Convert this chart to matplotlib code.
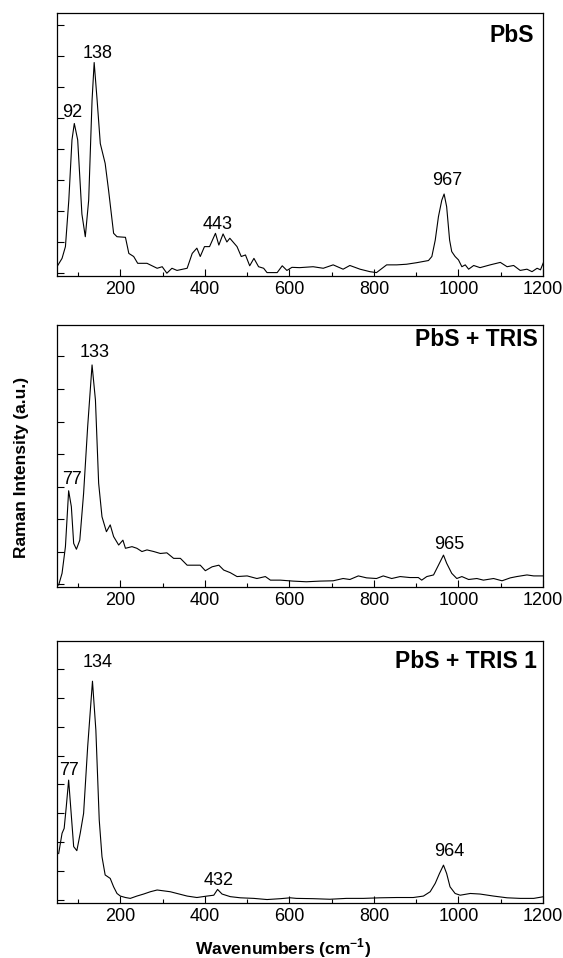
import matplotlib
matplotlib.use('Agg')
import matplotlib.pyplot as plt
import numpy as np
from matplotlib.ticker import MultipleLocator, NullFormatter

plt.rcParams['font.family'] = ['Liberation Sans', 'DejaVu Sans']

# PbS
wn_pbs = [50, 62, 70, 78, 85.5, 91, 99, 109, 117, 125, 133, 138, 145, 152.5, 164, 172, 184, 192,
          212, 220, 231.5, 241, 263, 287, 299, 310, 322, 334, 358, 370, 381, 389, 399, 411, 425,
          433, 443, 452, 459, 476, 486, 496, 506, 516, 527, 539, 547, 571, 583, 594, 606, 624,
          656, 680, 703.5, 727, 743, 767, 790.5, 806, 830, 854, 877, 901, 917, 929, 937, 945,
          952.6, 960.5, 966, 972, 979, 984, 992, 1000, 1008, 1016, 1024, 1036, 1051, 1075, 1099,
          1115, 1130.5, 1146, 1162, 1174, 1186, 1194, 1202]
int_pbs = [0.2, 0.47, 0.85, 2.35, 4.3, 4.83, 4.3, 1.9, 1.17, 2.35, 5.58, 6.8, 5.58, 4.18, 3.54,
           2.68, 1.28, 1.17, 1.15, 0.63, 0.53, 0.31, 0.31, 0.15, 0.2, -0.01, 0.15, 0.08, 0.15,
           0.63, 0.8, 0.53, 0.85, 0.85, 1.28, 0.9, 1.26, 1.0, 1.12, 0.85, 0.53, 0.58, 0.23, 0.47,
           0.2, 0.15, 0.01, 0.01, 0.23, 0.08, 0.18, 0.17, 0.2, 0.15, 0.26, 0.12, 0.24, 0.12, 0.04,
           0.01, 0.26, 0.26, 0.28, 0.33, 0.37, 0.4, 0.53, 1.06, 1.82, 2.35, 2.55, 2.14, 1.06, 0.69,
           0.53, 0.42, 0.2, 0.26, 0.12, 0.24, 0.17, 0.26, 0.34, 0.2, 0.24, 0.08, 0.12, 0.04, 0.15,
           0.1, 0.37]

# PbS + TRIS
wn_tris = [54, 62, 70, 77.6, 84, 89.5, 96, 104, 113, 122.6, 133, 141, 148.6, 156.5, 167, 176, 184,
           196, 206, 212, 227.5, 239, 251, 263, 279, 294.6, 310, 326, 342, 358, 373.5, 389, 401,
           417, 433, 444.5, 460, 476, 500, 523, 543, 555, 578.6, 609, 640, 672, 703.5, 727, 743,
           763, 782.6, 806, 822, 842, 862, 885, 905, 913, 925, 941, 952.6, 964.5, 972, 984, 996,
           1008, 1024, 1043.5, 1059, 1083, 1103, 1122.6, 1138, 1162, 1178, 1202]
int_tris = [-0.03, 0.33, 1.15, 2.87, 2.38, 1.25, 1.07, 1.35, 2.79, 4.84, 6.74, 5.66, 3.1, 2.07,
            1.61, 1.82, 1.46, 1.2, 1.35, 1.1, 1.15, 1.1, 1.0, 1.05, 1.0, 0.94, 0.96, 0.79, 0.79,
            0.58, 0.58, 0.58, 0.41, 0.53, 0.58, 0.43, 0.35, 0.23, 0.25, 0.17, 0.23, 0.12, 0.12,
            0.09, 0.07, 0.09, 0.1, 0.17, 0.14, 0.25, 0.19, 0.17, 0.25, 0.17, 0.23, 0.2, 0.2, 0.12,
            0.23, 0.28, 0.58, 0.89, 0.64, 0.33, 0.17, 0.23, 0.14, 0.17, 0.12, 0.17, 0.1, 0.19,
            0.23, 0.28, 0.25, 0.25]

# PbS + TRIS 1
wn_tris1 = [54, 62, 67, 72, 77.6, 83, 89.5, 97, 105, 113, 122.6, 134, 142, 150, 156.5, 164, 176,
            184, 192, 200, 212, 223.5, 239, 255, 271, 287, 302.5, 318, 334, 358, 381, 405, 421,
            430, 440.6, 460, 484, 515.6, 547, 579, 602, 616.5, 656, 695.6, 735, 775, 814, 854,
            893, 917, 933, 945, 955, 964.5, 972, 980, 992, 1004, 1028, 1051, 1083, 1115, 1146,
            1178, 1202]
int_tris1 = [1.61, 2.31, 2.48, 3.23, 4.15, 3.11, 1.85, 1.71, 2.31, 3.0, 5.3, 7.57, 5.88, 2.77, 1.5,
             0.87, 0.75, 0.46, 0.23, 0.14, 0.09, 0.06, 0.14, 0.21, 0.29, 0.35, 0.32, 0.29, 0.23,
             0.14, 0.09, 0.14, 0.17, 0.37, 0.21, 0.12, 0.08, 0.06, 0.02, 0.05, 0.08, 0.06, 0.05,
             0.03, 0.06, 0.06, 0.08, 0.09, 0.09, 0.14, 0.29, 0.58, 0.92, 1.21, 0.92, 0.46, 0.23,
             0.17, 0.23, 0.21, 0.14, 0.08, 0.06, 0.06, 0.12]

samples = ['PbS', 'PbS + TRIS', 'PbS + TRIS 1']
peaks = [[92, 138, 443, 967], [77, 133, 965], [77, 134, 432, 964]]
peak_x = [[87, 146, 430, 973], [85, 140, 979], [79, 146, 433, 979]]
peak_y = [[5.04, 6.96, 1.41, 2.84], [3.08, 6.97, 1.07], [4.33, 8.05, 0.52, 1.52]]

wns = [wn_pbs, wn_tris, wn_tris1]
ints = [int_pbs, int_tris, int_tris1]
ylims = [(-0.1, 8.4), (-0.09, 7.97), (-0.1, 8.96)]
boxes = [[0.1012, 0.7119, 0.8633, 0.2745],
         [0.1012, 0.3873, 0.8633, 0.2735],
         [0.1012, 0.0574, 0.8633, 0.2735]]
title_pos = [(0.981, 0.89), (0.99, 0.92), (0.988, 0.897)]

fig = plt.figure(figsize=(5.63, 9.58), dpi=100)
for i in range(3):
    ax = fig.add_axes(boxes[i])
    ax.plot(wns[i], ints[i], color='black', lw=0.8)
    ax.set_xlim(50, 1200)
    ax.set_ylim(ylims[i])
    ax.xaxis.set_major_locator(MultipleLocator(200))
    ax.xaxis.set_minor_locator(MultipleLocator(100))
    ax.yaxis.set_major_locator(MultipleLocator(1))
    ax.yaxis.set_major_formatter(NullFormatter())
    ax.tick_params(axis='x', which='major', direction='in', length=5, width=0.8,
                   labelsize=13, pad=3.5)
    ax.tick_params(axis='x', which='minor', direction='in', length=3, width=0.8)
    ax.tick_params(axis='y', which='major', direction='in', length=5, width=0.8)
    for s in ax.spines.values():
        s.set_linewidth(0.9)
    for p, px, py in zip(peaks[i], peak_x[i], peak_y[i]):
        ax.text(px, py, str(p), ha='center', va='baseline', fontsize=13)
    ax.text(title_pos[i][0], title_pos[i][1], samples[i], transform=ax.transAxes,
            ha='right', va='baseline', fontsize=16.5, fontweight='bold')

fig.text(0.039, 0.5125, 'Raman Intensity (a.u.)', rotation=90, ha='center', va='center',
         fontsize=12.5, fontweight='bold')
fig.text(0.503, 0.0104, 'Wavenumbers (cm$^{\\mathregular{-1}}$)', ha='center', va='center',
         fontsize=12.5, fontweight='bold')

fig.savefig('out.png', dpi=100)
